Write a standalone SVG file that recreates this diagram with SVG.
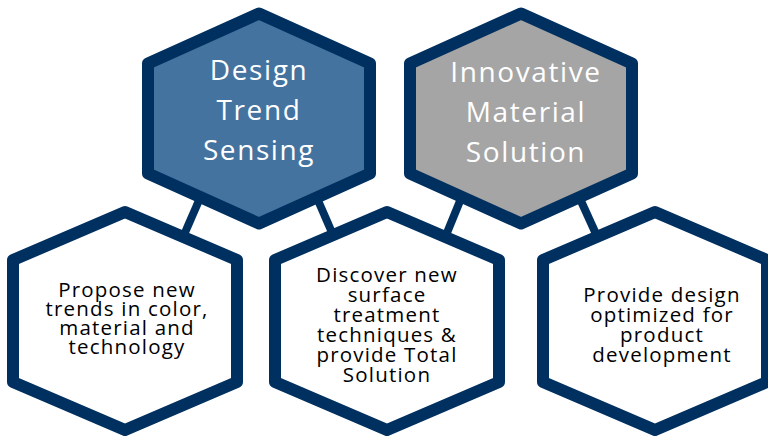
<svg xmlns="http://www.w3.org/2000/svg" width="768" height="439" viewBox="0 0 768 439">
<style>
.hex{stroke:#00305F;stroke-width:12;stroke-linejoin:round}
.conn{stroke:#00305F;stroke-width:8;fill:none}
.title{font-family:"Open Sans","Liberation Sans",sans-serif;font-size:28px;fill:#FFFFFF;text-anchor:middle;letter-spacing:1.6px}
.body{font-family:"Open Sans","Liberation Sans",sans-serif;font-size:20.5px;fill:#000000;text-anchor:middle;letter-spacing:1.2px}
</style>
<defs>
<path id="hexTop" d="M0,-105 L111,-55 L111,55 L0,105 L-111,55 L-111,-55 Z"/>
<path id="hexBot" d="M0,-109 L112,-61 L112,61 L0,109 L-112,61 L-112,-61 Z"/>
</defs>
<rect width="768" height="439" fill="#FFFFFF"/>
<g id="connectors">
<line class="conn" x1="203.5" y1="190" x2="179.6" y2="245"/>
<line class="conn" x1="313.5" y1="190" x2="337.4" y2="245"/>
<line class="conn" x1="464.5" y1="190" x2="442" y2="245"/>
<line class="conn" x1="576" y1="190" x2="601" y2="245"/>
</g>
<g id="design-trend-sensing">
<use href="#hexTop" x="259" y="118.5" class="hex" fill="#44739F"/>
<text class="title" x="259" y="80">Design</text>
<text class="title" x="259" y="120">Trend</text>
<text class="title" x="259" y="160">Sensing</text>
</g>
<g id="innovative-material-solution">
<use href="#hexTop" x="521" y="118.5" class="hex" fill="#A5A5A5"/>
<text class="title" x="526" y="82">Innovative</text>
<text class="title" x="526" y="122">Material</text>
<text class="title" x="526" y="162">Solution</text>
</g>
<g id="propose-new-trends">
<use href="#hexBot" x="125" y="321" class="hex" fill="#FFFFFF"/>
<text class="body" x="127" y="297">Propose new</text>
<text class="body" x="127" y="316">trends in color,</text>
<text class="body" x="127" y="335">material and</text>
<text class="body" x="127" y="354">technology</text>
</g>
<g id="discover-surface-treatment">
<use href="#hexBot" x="387" y="321" class="hex" fill="#FFFFFF"/>
<text class="body" x="387" y="282">Discover new</text>
<text class="body" x="387" y="302">surface</text>
<text class="body" x="387" y="322">treatment</text>
<text class="body" x="387" y="342">techniques &amp;</text>
<text class="body" x="387" y="362">provide Total</text>
<text class="body" x="387" y="382">Solution</text>
</g>
<g id="provide-design">
<use href="#hexBot" x="655" y="321" class="hex" fill="#FFFFFF"/>
<text class="body" x="662" y="302">Provide design</text>
<text class="body" x="662" y="322">optimized for</text>
<text class="body" x="662" y="342">product</text>
<text class="body" x="662" y="362">development</text>
</g>
</svg>
